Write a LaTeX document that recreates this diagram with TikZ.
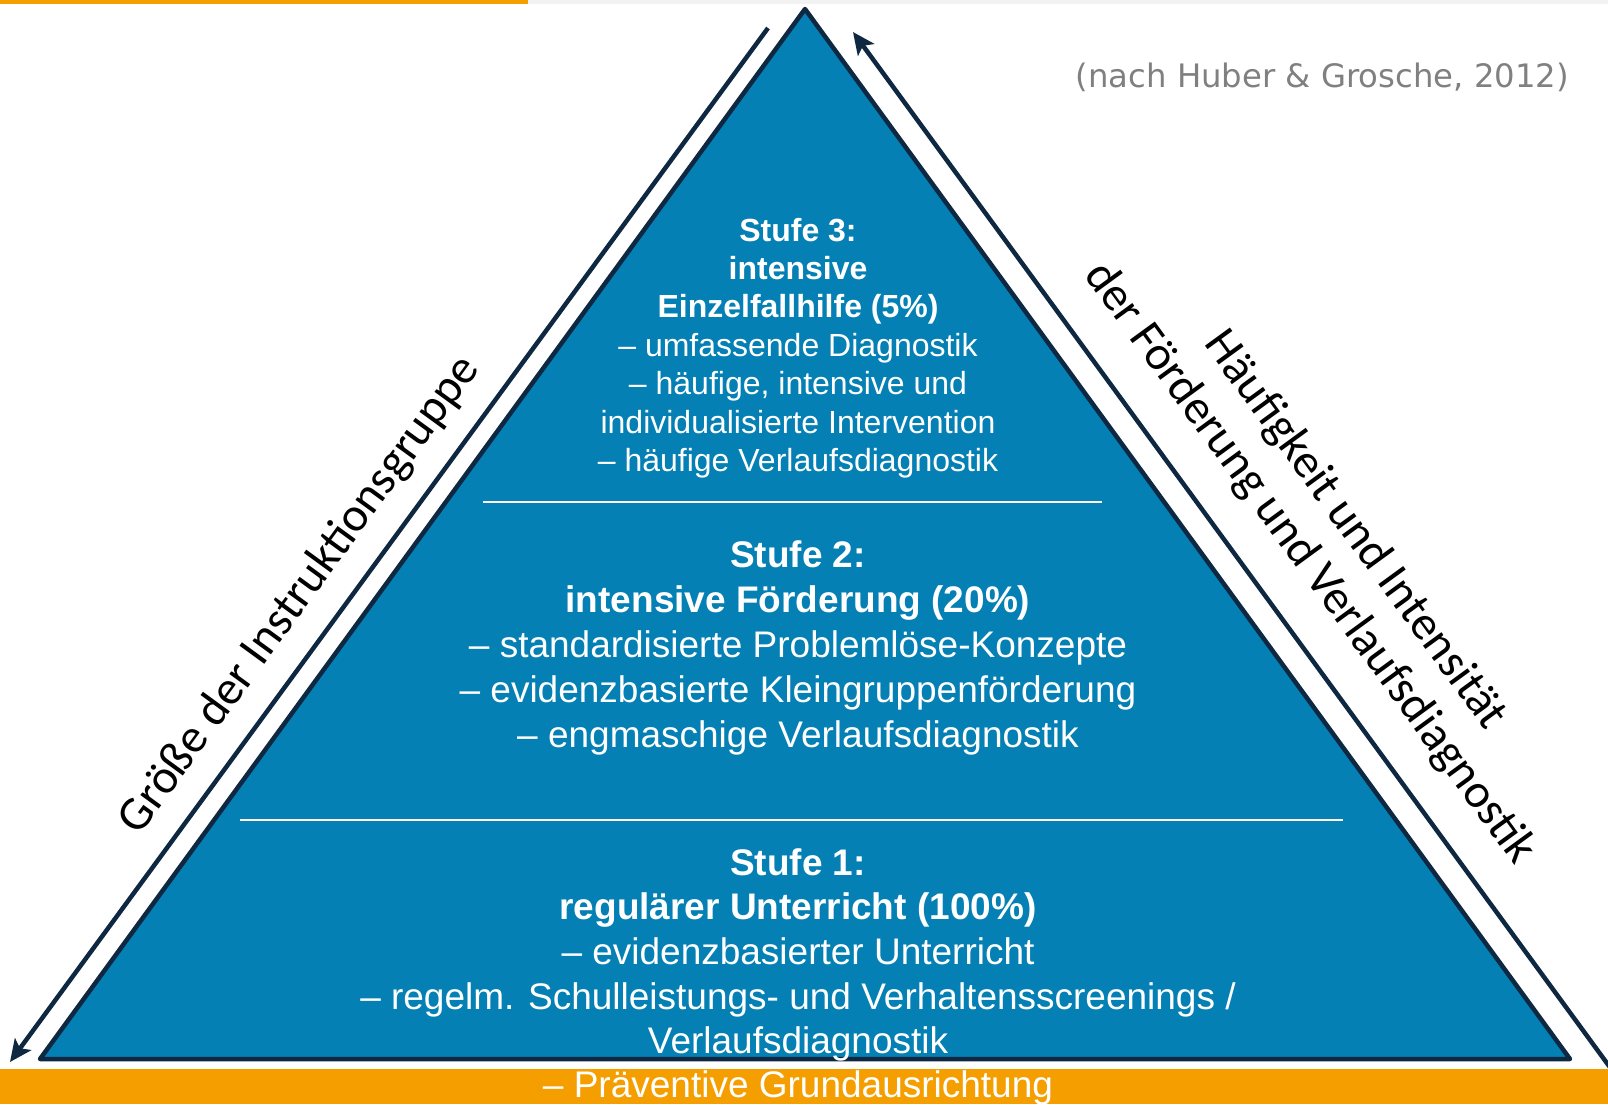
\documentclass[tikz,border=0pt]{standalone}
\usepackage{fontspec}
\setmainfont{Liberation Sans}
\newfontfamily\seitenschrift{Carlito}
\newfontfamily\quellschrift{DejaVu Sans}
\usepackage{xcolor}
\usepackage{tikz}
\usetikzlibrary{arrows.meta}
\usetikzlibrary{positioning}
\definecolor{pyrblau}{HTML}{0480B4}
\definecolor{pyrrand}{HTML}{0F2842}
\definecolor{pyrorange}{HTML}{F59E00}
\definecolor{balkengrau}{HTML}{F2F2F2}
\tikzset{
  StufeText/.style={
    text=white, align=center, inner sep=0pt,
  },
  SeitenPfeil/.style={
    line width=4.5pt, draw=pyrrand,
  },
  SeitenText/.style={
    text=black, align=center, inner sep=0pt,
    font=\seitenschrift\fontsize{48}{56}\selectfont,
  },
}

\begin{document}
\begin{tikzpicture}[x=1pt,y=-1pt]
\useasboundingbox (0,0) rectangle (1608,1104);
\fill[balkengrau] (528,0) rectangle (1608,4);
\fill[pyrorange] (0,0) rectangle (528,4);
\fill[pyrorange] (0,1069) rectangle (1608,1104);
\coordinate (spitze) at (805,9);
\coordinate (linksunten) at (40,1059);
\coordinate (rechtsunten) at (1570,1059);
\filldraw[fill=pyrblau, draw=pyrrand, line width=4.5pt, line join=round] (spitze) -- (rechtsunten) -- (linksunten) -- cycle;
\draw[white, line width=1.2pt] (483,502) -- (1102,502);
\draw[white, line width=1.2pt] (240,820) -- (1343,820);
\coordinate (linksoben) at (768,28);
\coordinate (linkspfeil) at (10,1062);
\coordinate (rechtsende) at (1620,1081);
\coordinate (rechtspfeil) at (853,32);
\draw[SeitenPfeil, -{Stealth[length=22pt,width=20pt,inset=5pt]}] (linksoben) to (linkspfeil);
\draw[SeitenPfeil, -{Stealth[length=22pt,width=20pt,inset=5pt]}] (rechtsende) to (rechtspfeil);
\node[StufeText, font=\fontsize{32}{38.4}\selectfont] (stufe3) at (798,348) {\textbf{Stufe 3:}\\\textbf{intensive}\\\textbf{Einzelfallhilfe (5\%)}\\– umfassende Diagnostik\\– häufige, intensive und\\individualisierte Intervention\\– häufige Verlaufsdiagnostik};
\node[StufeText, font=\fontsize{37}{44.8}\selectfont] (stufe2) at (798,648) {\textbf{Stufe 2:}\\\textbf{intensive Förderung (20\%)}\\– standardisierte Problemlöse-Konzepte\\– evidenzbasierte Kleingruppenförderung\\– engmaschige Verlaufsdiagnostik};
\node[StufeText, font=\fontsize{37}{44.6}\selectfont] (stufe1) at (798,955) {\textbf{Stufe 1:}\\\textbf{regulärer Unterricht (100\%)}\\– evidenzbasierter Unterricht\\– regelm. Schulleistungs- und Verhaltensscreenings /\\Verlaufsdiagnostik};
\node[StufeText, font=\fontsize{37}{44.6}\selectfont] (praev) at (798,1088) {– Präventive Grundausrichtung};
\node[text=black!50, inner sep=0pt, anchor=east, font=\quellschrift\fontsize{32.3}{38}\selectfont] (quelle) at (1569,77) {(nach Huber \& Grosche, 2012)};
\node[SeitenText, rotate=53.9] (groesse) at (300,595) {Größe der Instruktionsgruppe};
\node[SeitenText, rotate=-53.9] (haeufigkeit) at (1332,547) {Häufigkeit und Intensität\\der Förderung und Verlaufsdiagnostik};
\end{tikzpicture}
\end{document}
